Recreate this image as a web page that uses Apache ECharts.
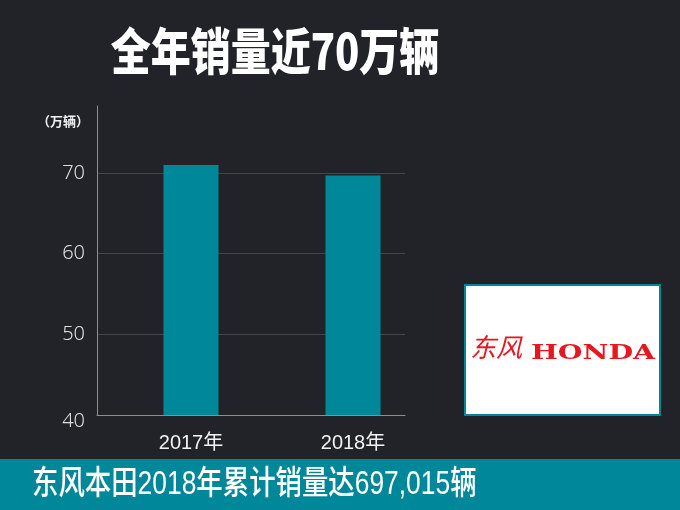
<!DOCTYPE html>
<html>
<head>
<meta charset="utf-8">
<script src="https://cdn.jsdelivr.net/npm/echarts@6/dist/echarts.min.js"></script>
<style>
html,body{margin:0;padding:0;background:#222328;}
#main{width:680px;height:510px;}
</style>
</head>
<body>
<div id="main"></div>
<script>
const categories = ['2017年', '2018年'];
const salesWan = [71.0, 69.7];
const yMin = 40, yMax = 78.3, yStep = 10;
const titleText = '全年销量近70万辆';
const unitText = '（万辆）';
const bannerText = '东风本田2018年累计销量达697,015辆';
const logoCn = '东风';
const logoEn = 'HONDA';

const chart = echarts.init(document.getElementById('main'), null, {renderer: 'canvas'});
const teal = '#00889a';
const cjk = '"Liberation Sans", "Noto Sans CJK SC", sans-serif';

chart.setOption({
  backgroundColor: '#222328',
  animation: false,
  grid: [
    {left: 97, right: 275, top: 106, bottom: 95},
    {left: 110, right: 246, top: 106, bottom: 95}
  ],
  xAxis: [
    {type: 'value', gridIndex: 0, min: 0, max: 1,
     axisLine: {show: true, lineStyle: {color: '#8e8e8e', width: 1}},
     axisTick: {show: false}, axisLabel: {show: false}, splitLine: {show: false}},
    {type: 'category', gridIndex: 1, data: categories,
     axisLine: {show: false}, axisTick: {show: false},
     axisLabel: {color: '#f2f2f2', fontSize: 20, margin: 18, fontFamily: cjk}}
  ],
  yAxis: [
    {type: 'value', gridIndex: 0, min: yMin, max: yMax, interval: yStep,
     axisLine: {show: true, lineStyle: {color: '#8e8e8e', width: 1}},
     axisTick: {show: false},
     axisLabel: {color: '#dedede', fontSize: 20, margin: 12, showMaxLabel: false,
       fontFamily: '"Noto Sans", sans-serif', fontWeight: 300,
       formatter: v => v === yMin ? '{lo|' + v + '}' : '{n|' + v + '}',
       rich: {n: {fontSize: 20, color: '#dedede', fontFamily: '"Noto Sans", sans-serif'},
              lo: {fontSize: 20, color: '#dedede', fontFamily: '"Noto Sans", sans-serif', padding: [12, 0, 0, 0]}}},
     splitLine: {show: true, showMinLine: false, showMaxLine: false, lineStyle: {color: '#45464b', width: 1}}},
    {type: 'value', gridIndex: 1, min: yMin, max: yMax, show: false, splitLine: {show: false}}
  ],
  series: [{
    type: 'bar', xAxisIndex: 1, yAxisIndex: 1, data: salesWan, barWidth: 55,
    itemStyle: {color: teal}
  }],
  graphic: [
    {type: 'text', x: 275, y: 51, scaleX: 0.8,
     style: {text: titleText, fill: '#ffffff', font: '900 50px "Noto Sans CJK SC", sans-serif',
             textAlign: 'center', textVerticalAlign: 'middle'}},
    {type: 'text', x: 89, y: 121,
     style: {text: unitText, fill: '#f0f0f0', font: 'bold 13px "Noto Sans CJK SC", sans-serif',
             textAlign: 'right', textVerticalAlign: 'middle'}},
    {type: 'rect', shape: {x: 0, y: 459, width: 680, height: 51}, style: {fill: teal}},
    {type: 'text', x: 32, y: 485, scaleX: 0.8,
     style: {text: bannerText, fill: '#ffffff', font: '500 33px "Liberation Sans", "Noto Sans CJK SC", sans-serif',
             textAlign: 'left', textVerticalAlign: 'middle'}},
    {type: 'rect', shape: {x: 465, y: 285, width: 195, height: 130},
     style: {fill: '#ffffff', stroke: teal, lineWidth: 2}},
    {type: 'text', x: 496, y: 347,
     style: {text: logoCn, fill: '#e8161f', font: 'italic 26px "Noto Sans CJK SC", sans-serif',
             textAlign: 'center', textVerticalAlign: 'middle'}},
    {type: 'text', x: 593, y: 354, scaleX: 1.42,
     style: {text: logoEn, fill: '#e8161f', font: 'bold 20px "DejaVu Serif", serif',
             textAlign: 'center', textVerticalAlign: 'middle'}}
  ]
});
</script>
</body>
</html>
